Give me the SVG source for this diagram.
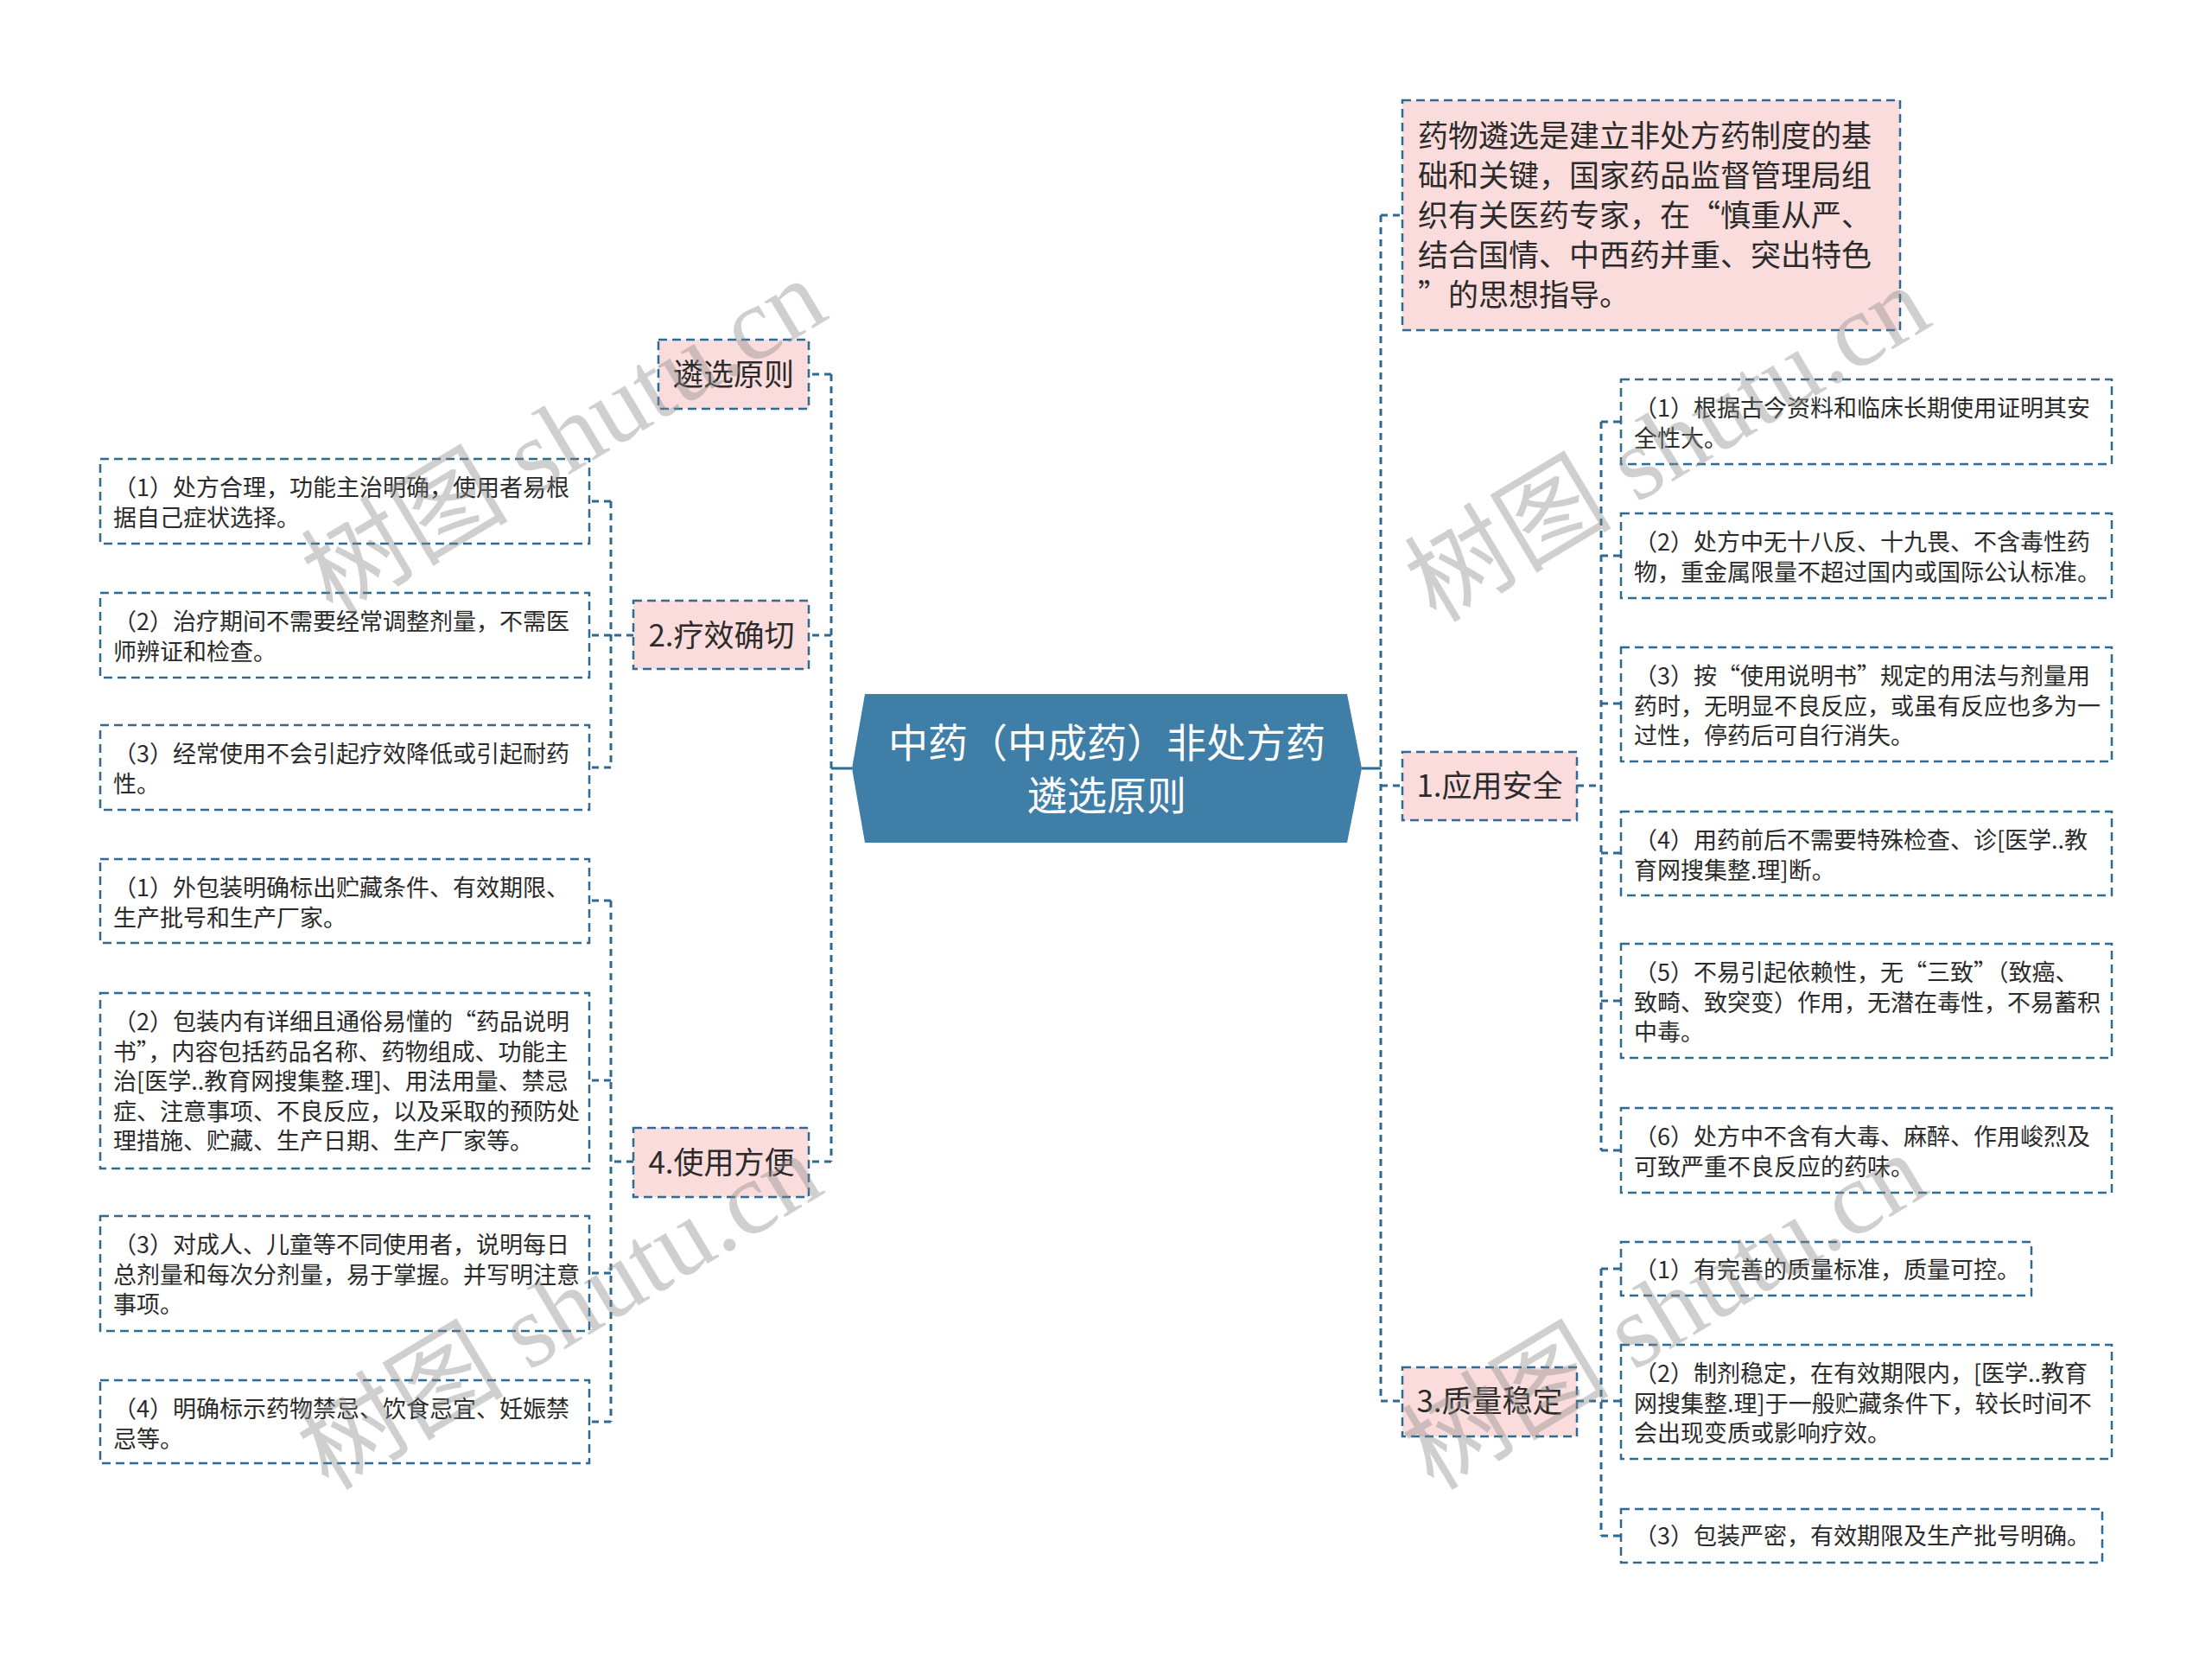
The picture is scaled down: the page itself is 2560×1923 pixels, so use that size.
<svg xmlns="http://www.w3.org/2000/svg" width="2560" height="1923" viewBox="0 0 2560 1923">
<style>
.bx{fill:#fbdcdc;stroke:#2f6a92;stroke-width:2.5;stroke-dasharray:10 6}
.lf{fill:#ffffff;stroke:#2f6a92;stroke-width:2.5;stroke-dasharray:10 6}
.t{font-family:"Noto Sans CJK SC","Noto Sans",sans-serif;font-size:27px;fill:#2b2b2b}
.tb{font-family:"Noto Sans CJK SC","Noto Sans",sans-serif;font-size:35px;fill:#2b2b2b}
.tc{font-family:"Noto Sans CJK SC","Noto Sans",sans-serif;font-size:46px;fill:#ffffff;text-anchor:middle}
.mid{text-anchor:middle}
.cn{fill:none;stroke:#2f6a92;stroke-width:3;stroke-dasharray:8 6}
.wm{font-family:"Liberation Serif","Noto Sans CJK SC",serif;font-size:120px;fill:#8a8a8a;opacity:0.4;text-anchor:middle}
</style>
<rect width="2560" height="1923" fill="#ffffff"/>
<g id="connectors">
<path d="M1576,889 H1598 M986,889 H962" fill="none" stroke="#2f6a92" stroke-width="3"/>
<path class="cn" d="M1598,249 V1621 M1598,249 H1623 M1598,909 H1623 M1598,1621 H1623"/>
<path class="cn" d="M962,433 V1344 M962,433 H936 M962,735 H936 M962,1344 H936"/>
<path class="cn" d="M1825,909 H1853 M1853,488 V1331 M1853,488 H1876 M1853,643 H1876 M1853,814 H1876 M1853,987 H1876 M1853,1158 H1876 M1853,1331 H1876"/>
<path class="cn" d="M1825,1621 H1853 M1853,1468 V1777 M1853,1468 H1876 M1853,1621 H1876 M1853,1777 H1876"/>
<path class="cn" d="M733,735 H707 M707,580 V888 M707,580 H682 M707,735 H682 M707,888 H682"/>
<path class="cn" d="M733,1344 H707 M707,1042 V1645 M707,1042 H682 M707,1250 H682 M707,1473 H682 M707,1645 H682"/>
</g>
<g id="root">
<polygon points="1001,803 1559,803 1576,889 1559,975 1001,975 986,889" fill="#3f7ea6"/>
<text class="tc" x="1281" y="876">中药（中成药）非处方药</text>
<text class="tc" x="1281" y="937">遴选原则</text>
</g>
<g id="intro">
<rect class="bx" x="1623" y="116" width="576" height="266"/>
<text class="tb" x="1641" y="170">药物遴选是建立非处方药制度的基</text>
<text class="tb" x="1641" y="216">础和关键，国家药品监督管理局组</text>
<text class="tb" x="1641" y="262">织有关医药专家，在“慎重从严、</text>
<text class="tb" x="1641" y="308">结合国情、中西药并重、突出特色</text>
<text class="tb" x="1641" y="354">”的思想指导。</text>
</g>
<g id="safety">
<rect class="bx" x="1623" y="870" width="202" height="79"/>
<text class="tb mid" x="1724" y="922">1.应用安全</text>
</g>
<g id="s1"><rect class="lf" x="1876" y="439" width="568" height="98"/>
<text class="t" x="1891" y="482">（1）根据古今资料和临床长期使用证明其安</text>
<text class="t" x="1891" y="516.5">全性大。</text></g>
<g id="s2"><rect class="lf" x="1876" y="594" width="568" height="98"/>
<text class="t" x="1891" y="637">（2）处方中无十八反、十九畏、不含毒性药</text>
<text class="t" x="1891" y="671.5">物，重金属限量不超过国内或国际公认标准。</text></g>
<g id="s3"><rect class="lf" x="1876" y="749" width="568" height="132"/>
<text class="t" x="1891" y="792">（3）按“使用说明书”规定的用法与剂量用</text>
<text class="t" x="1891" y="826.5">药时，无明显不良反应，或虽有反应也多为一</text>
<text class="t" x="1891" y="861">过性，停药后可自行消失。</text></g>
<g id="s4"><rect class="lf" x="1876" y="939" width="568" height="97"/>
<text class="t" x="1891" y="982">（4）用药前后不需要特殊检查、诊[医学..教</text>
<text class="t" x="1891" y="1016.5">育网搜集整.理]断。</text></g>
<g id="s5"><rect class="lf" x="1876" y="1092" width="568" height="132"/>
<text class="t" x="1891" y="1135">（5）不易引起依赖性，无“三致”（致癌、</text>
<text class="t" x="1891" y="1169.5">致畸、致突变）作用，无潜在毒性，不易蓄积</text>
<text class="t" x="1891" y="1204">中毒。</text></g>
<g id="s6"><rect class="lf" x="1876" y="1282" width="568" height="98"/>
<text class="t" x="1891" y="1325">（6）处方中不含有大毒、麻醉、作用峻烈及</text>
<text class="t" x="1891" y="1359.5">可致严重不良反应的药味。</text></g>
<g id="quality">
<rect class="bx" x="1623" y="1582" width="202" height="80"/>
<text class="tb mid" x="1724" y="1634">3.质量稳定</text>
</g>
<g id="q1"><rect class="lf" x="1876" y="1437" width="475" height="62"/>
<text class="t" x="1891" y="1479">（1）有完善的质量标准，质量可控。</text></g>
<g id="q2"><rect class="lf" x="1876" y="1556" width="568" height="132"/>
<text class="t" x="1891" y="1599">（2）制剂稳定，在有效期限内，[医学..教育</text>
<text class="t" x="1891" y="1633.5">网搜集整.理]于一般贮藏条件下，较长时间不</text>
<text class="t" x="1891" y="1668">会出现变质或影响疗效。</text></g>
<g id="q3"><rect class="lf" x="1876" y="1746" width="557" height="62"/>
<text class="t" x="1891" y="1787">（3）包装严密，有效期限及生产批号明确。</text></g>
<g id="principle">
<rect class="bx" x="762" y="393" width="174" height="80"/>
<text class="tb mid" x="849" y="446">遴选原则</text>
</g>
<g id="efficacy">
<rect class="bx" x="733" y="695" width="203" height="79"/>
<text class="tb mid" x="835" y="748">2.疗效确切</text>
</g>
<g id="e1"><rect class="lf" x="116" y="531" width="566" height="98"/>
<text class="t" x="131" y="574">（1）处方合理，功能主治明确，使用者易根</text>
<text class="t" x="131" y="608.5">据自己症状选择。</text></g>
<g id="e2"><rect class="lf" x="116" y="686" width="566" height="98"/>
<text class="t" x="131" y="729">（2）治疗期间不需要经常调整剂量，不需医</text>
<text class="t" x="131" y="763.5">师辨证和检查。</text></g>
<g id="e3"><rect class="lf" x="116" y="839" width="566" height="98"/>
<text class="t" x="131" y="882">（3）经常使用不会引起疗效降低或引起耐药</text>
<text class="t" x="131" y="916.5">性。</text></g>
<g id="convenience">
<rect class="bx" x="733" y="1305" width="203" height="80"/>
<text class="tb mid" x="835" y="1358">4.使用方便</text>
</g>
<g id="c1"><rect class="lf" x="116" y="994" width="566" height="97"/>
<text class="t" x="131" y="1037">（1）外包装明确标出贮藏条件、有效期限、</text>
<text class="t" x="131" y="1071.5">生产批号和生产厂家。</text></g>
<g id="c2"><rect class="lf" x="116" y="1149" width="566" height="203"/>
<text class="t" x="131" y="1192">（2）包装内有详细且通俗易懂的“药品说明</text>
<text class="t" x="131" y="1226.5">书”，内容包括药品名称、药物组成、功能主</text>
<text class="t" x="131" y="1261">治[医学..教育网搜集整.理]、用法用量、禁忌</text>
<text class="t" x="131" y="1295.5">症、注意事项、不良反应，以及采取的预防处</text>
<text class="t" x="131" y="1330">理措施、贮藏、生产日期、生产厂家等。</text></g>
<g id="c3"><rect class="lf" x="116" y="1407" width="566" height="133"/>
<text class="t" x="131" y="1450">（3）对成人、儿童等不同使用者，说明每日</text>
<text class="t" x="131" y="1484.5">总剂量和每次分剂量，易于掌握。并写明注意</text>
<text class="t" x="131" y="1519">事项。</text></g>
<g id="c4"><rect class="lf" x="116" y="1597" width="566" height="96"/>
<text class="t" x="131" y="1640">（4）明确标示药物禁忌、饮食忌宜、妊娠禁</text>
<text class="t" x="131" y="1674.5">忌等。</text></g>
<g id="watermarks">
<text class="wm" transform="translate(653,506) rotate(-31)" x="0" y="40">树图 shutu.cn</text>
<text class="wm" transform="translate(648,1518) rotate(-31)" x="0" y="40">树图 shutu.cn</text>
<text class="wm" transform="translate(1930,514) rotate(-31)" x="0" y="40">树图 shutu.cn</text>
<text class="wm" transform="translate(1927,1518) rotate(-31)" x="0" y="40">树图 shutu.cn</text>
</g>
</svg>
